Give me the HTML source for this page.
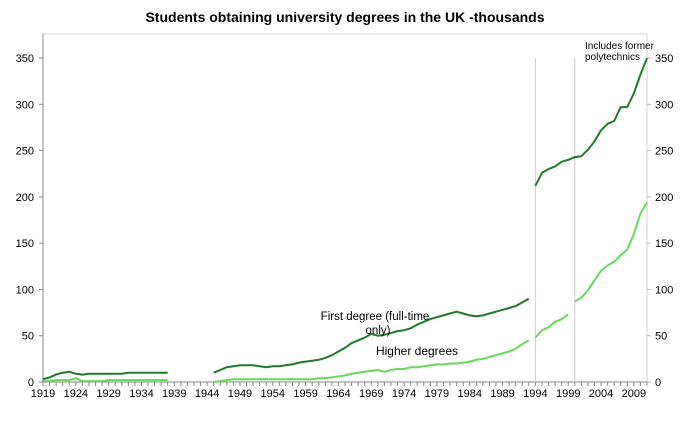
<!DOCTYPE html>
<html><head><meta charset="utf-8"><style>
body{margin:0;background:#fff;font-family:"Liberation Sans",sans-serif}
svg text{font-family:"Liberation Sans",sans-serif}
</style></head><body>
<svg width="688" height="422" xmlns="http://www.w3.org/2000/svg">
<text x="345" y="22" text-anchor="middle" font-size="14" font-weight="bold">Students obtaining university degrees in the UK -thousands</text>
<g id="axes"></g>
<g id="series"></g>
<text x="375" y="320" text-anchor="middle" font-size="11.5">First degree (full-time</text>
<text x="378" y="334" text-anchor="middle" font-size="11.5">only)</text>
<text x="417" y="355" text-anchor="middle" font-size="12">Higher degrees</text>
<text x="585" y="49" font-size="10">Includes former</text>
<text x="585" y="60" font-size="10">polytechnics</text>
</svg>
<script>
const years=[];for(let y=1919;y<=2011;y++)years.push(y);
const yTicks=[0,50,100,150,200,250,300,350];
const firstDegree=[3,5,8,10,11,9,8,9,9,9,9,9,9,10,10,10,10,10,10,10,null,null,null,null,null,null,
10,13,16,17,18,18,18,17,16,17,17,18,19,21,22,23,24,26,29,33,37,42,45,48,52,50,51,53,55,56,58,62,65,68,70,72,74,76,74,72,71,72,74,76,78,80,82,86,90,
212,226,230,233,238,240,243,244,251,260,272,279,282,297,297,312,332,350];
const higherDegrees=[1,1,2,2,2,4,1,1,1,1,2,2,2,2,2,2,2,2,2,2,null,null,null,null,null,null,
0,1,2,3,3,3,3,3,3,3,3,3,3,3,3,3,4,4,5,6,7,9,10,11,12,13,11,13,14,14,16,16,17,18,19,19,20,20,21,22,24,25,27,29,31,33,36,41,45,
48,56,59,65,68,73,87,91,99,110,120,126,130,137,143,160,182,194];
const breaksFirst=[1994];
const breaksHigher=[1994,2000];
const NS="http://www.w3.org/2000/svg";
const L=43,R=647,T=34,B=382;
const x=y=>L+(y-1919)*(R-L)/92;
const yv=v=>B-v*(B-T)/376;
function mk(tag,attrs,parent){const e=document.createElementNS(NS,tag);for(const k in attrs)e.setAttribute(k,attrs[k]);parent.appendChild(e);return e;}
const ax=document.getElementById('axes');
let e=mk('rect',{x:L,y:T,width:R-L,height:B-T,fill:'none',stroke:'#d9d9d9'},ax);


e=mk('line',{x1:L,y1:T,x2:L,y2:B,stroke:'#888'},ax);


e=mk('line',{x1:R,y1:T,x2:R,y2:B,stroke:'#d0d0d0'},ax);


e=mk('line',{x1:L,y1:B,x2:R,y2:B,stroke:'#888'},ax);


yTicks.forEach(v=>{
  mk('line',{x1:L-4,y1:yv(v),x2:L,y2:yv(v),stroke:'#888'},ax);
  mk('line',{x1:R,y1:yv(v),x2:R+4,y2:yv(v),stroke:'#bbb'},ax);
  let t=mk('text',{x:L-9,y:yv(v)+4,'text-anchor':'end','font-size':11},ax);t.textContent=v;
  
  
  t=mk('text',{x:R+8,y:yv(v)+4,'font-size':11},ax);t.textContent=v;
  
  
});
years.forEach(y=>{
  mk('line',{x1:x(y),y1:B,x2:x(y),y2:B+4,stroke:'#888'},ax);
  if((y-1919)%5===0){const t=mk('text',{x:x(y),y:B+15,'text-anchor':'middle','font-size':11},ax);t.textContent=y;
  
  }
});
[1994,2000].forEach(y=>{const l=mk('line',{x1:x(y),y1:yv(350),x2:x(y),y2:B,stroke:'#ccc'},ax);

});
const sg=document.getElementById('series');
function draw(vals,brk,color,name){
  let segs=[],cur=[];
  vals.forEach((v,i)=>{const yr=years[i];
    if(brk.includes(yr)&&cur.length){segs.push(cur);cur=[];}
    if(v===null){if(cur.length)segs.push(cur);cur=[];return;}
    cur.push(x(yr).toFixed(1)+','+yv(v).toFixed(1));});
  if(cur.length)segs.push(cur);
  segs.forEach(s=>{const p=mk('polyline',{points:s.join(' '),fill:'none',stroke:color,'stroke-width':2,'stroke-linejoin':'round'},sg);
  
  });
}
draw(higherDegrees,breaksHigher,'#66d95a','higher-degrees-line');
draw(firstDegree,breaksFirst,'#1f7a2a','first-degree-line');
</script>
</body></html>
